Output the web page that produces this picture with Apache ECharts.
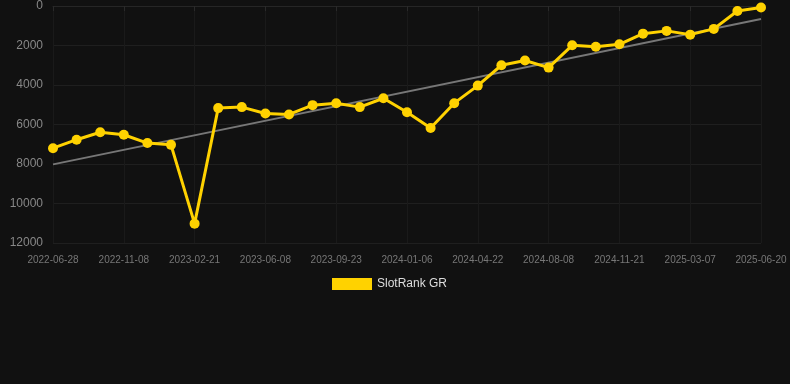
<!DOCTYPE html>
<html>
<head>
<meta charset="utf-8">
<script src="https://cdn.jsdelivr.net/npm/echarts@6/dist/echarts.min.js"></script>
<style>
  html, body { margin: 0; padding: 0; background: #111111; }
  #chart { width: 790px; height: 384px; }
</style>
</head>
<body>
<div id="chart"></div>
<script>
// dates on the x axis (only every third one is shown)
let dates = [
    '2022-06-28', '2022-08-11', '2022-09-24', '2022-11-08', '2022-12-13', '2023-01-17',
    '2023-02-21', '2023-03-30', '2023-05-03', '2023-06-08', '2023-07-19', '2023-08-20',
    '2023-09-23', '2023-10-28', '2023-12-02', '2024-01-06', '2024-02-16', '2024-03-20',
    '2024-04-22', '2024-05-29', '2024-07-03', '2024-08-08', '2024-09-12', '2024-10-17',
    '2024-11-21', '2024-12-26', '2025-01-30', '2025-03-07', '2025-04-11', '2025-05-16',
    '2025-06-20'
]
// rank values (lower = better, axis is inverted)
let rank = [
    7200, 6770, 6390, 6520, 6940, 7030, 11020, 5170, 5120, 5440, 5490,
    5020, 4920, 5120, 4670, 5380, 6180, 4920, 4030, 3000, 2760, 3120,
    1990, 2060, 1940, 1400, 1260, 1450, 1160, 250, 80
]
// trend line end points
let trendStart = 8020
let trendEnd = 660

let trend = dates.map(function (d, i) {
    if (i === 0) return trendStart
    if (i === dates.length - 1) return trendEnd
    return null
})

let myChart = echarts.init(document.getElementById('chart'))

let option = {
    backgroundColor: '#111111',
    animation: false,
    legend: {
        data: ['SlotRank GR'],
        top: 273,
        left: 327,
        itemWidth: 40,
        itemHeight: 12,
        itemGap: 10,
        textStyle: { color: '#dddddd', fontSize: 12 },
        icon: 'rect'
    },
    grid: {
        left: 53,
        right: 29,
        top: 6,
        height: 237
    },
    xAxis: {
        type: 'category',
        data: dates,
        boundaryGap: false,
        axisLine: { show: true, lineStyle: { color: '#262626' } },
        axisTick: { show: true, interval: 2, alignWithLabel: true, lineStyle: { color: '#2a2a2a' } },
        axisLabel: { interval: 2, color: '#777777', fontSize: 10, margin: 12 },
        splitLine: { show: true, interval: 2, lineStyle: { color: '#1a1a1a' } }
    },
    yAxis: {
        type: 'value',
        inverse: true,
        min: 0,
        max: 12000,
        interval: 2000,
        axisLine: { show: false },
        axisTick: { show: false },
        axisLabel: {
            color: '#888888',
            fontSize: 12,
            margin: 10,
            formatter: function (v) { return String(v) }
        },
        splitLine: { lineStyle: { color: '#1f1f1f' } }
    },
    series: [
        {
            name: 'SlotRank GR',
            type: 'line',
            data: rank,
            color: '#ffd200',
            symbol: 'circle',
            symbolSize: 10,
            lineStyle: { width: 3, color: '#ffd200' },
            itemStyle: { color: '#ffd200' },
            z: 3
        },
        {
            name: 'trend',
            type: 'line',
            data: trend,
            connectNulls: true,
            symbol: 'none',
            lineStyle: { width: 2, color: '#777777' },
            z: 2
        }
    ]
}
myChart.setOption(option)
</script>
</body>
</html>
